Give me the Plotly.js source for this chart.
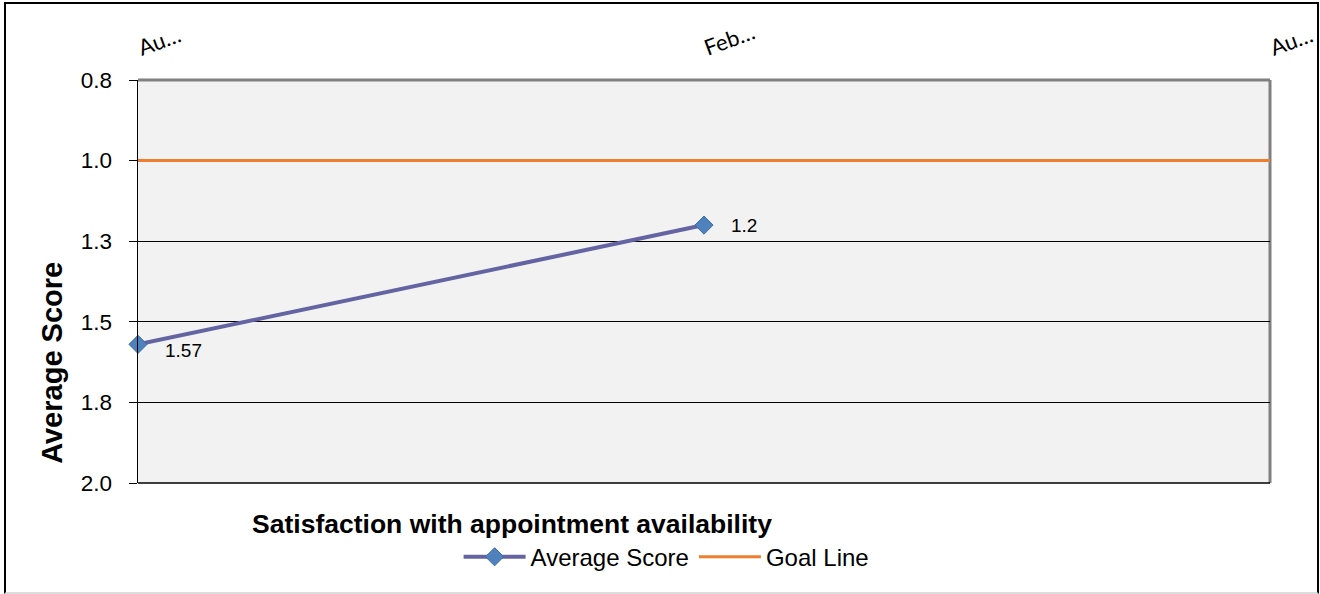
<!DOCTYPE html>
<html><head><meta charset="utf-8">
<script src="https://cdn.plot.ly/plotly-3.0.1.min.js"></script>
<style>
body{margin:0;background:#fff}
#wrap{position:relative;width:1320px;height:594px;overflow:hidden}
#chart{width:1320px;height:594px}
#frame{position:absolute;left:4px;top:2px;width:1311px;height:588px;border:2px solid #000;border-bottom:2px solid #ddd;pointer-events:none;}
</style></head><body>
<div id="wrap"><div id="chart"></div><div id="frame"></div></div>
<script>
const periods = ["Au…", "Feb…", "Au…"];
const averageScore = [1.57, 1.2, null];
const goalLine = [1.0, 1.0, 1.0];
const scoreLabels = ["1.57", "1.2", ""];

const xIdx = periods.map((_, i) => i);
const FONT = "Liberation Sans, Arial, sans-serif";

const traces = [
  {
    x: xIdx, y: averageScore, name: "Average Score", type: "scatter",
    mode: "lines+markers", cliponaxis: false,
    line: {color: "#6464A2", width: 4},
    marker: {symbol: "diamond", size: 14, color: "#4F81BD", line: {color: "#3C6DA8", width: 1}},
    hoverinfo: "y"
  },
  {
    x: xIdx, y: goalLine, name: "Goal Line", type: "scatter",
    mode: "lines",
    line: {color: "#EF7E2E", width: 3},
    hoverinfo: "y"
  }
];

const labelAnns = [];
averageScore.forEach((v, i) => {
  if (v === null) return;
  labelAnns.push({
    x: i, y: v, xref: "x", yref: "y", text: scoreLabels[i], showarrow: false,
    xanchor: "left", yanchor: "middle", xshift: 25, yshift: i === 0 ? -6 : 0,
    font: {family: FONT, size: 19, color: "#000"}
  });
});

const layout = {
  width: 1320, height: 594,
  margin: {l: 138, r: 50, t: 80, b: 111, pad: 0},
  paper_bgcolor: "#fff",
  plot_bgcolor: "#F2F2F2",
  showlegend: true,
  title: {
    text: "Satisfaction with appointment availability",
    font: {family: FONT, size: 26.5, weight: "bold", color: "#000"},
    xref: "container", yref: "container", x: 0.191, xanchor: "left", y: 0.118, yanchor: "middle"
  },
  legend: {
    orientation: "h", xref: "container", yref: "container",
    x: 0.505, xanchor: "center", y: 0.062, yanchor: "middle",
    font: {family: FONT, size: 24, color: "#000"},
    itemwidth: 62,
    bgcolor: "rgba(0,0,0,0)"
  },
  xaxis: {
    range: [0, 2], side: "top",
    tickvals: xIdx, ticktext: periods, tickangle: -20,
    showgrid: false, zeroline: false, showline: false, ticks: "",
    ticklabelstandoff: 18, ticklabeloverflow: "allow",
    tickfont: {family: "Lato, sans-serif", size: 22, color: "#000"},
    fixedrange: true
  },
  yaxis: {
    range: [2.0, 0.75], tick0: 0.75, dtick: 0.25, tickformat: ".1f",
    showgrid: true, gridcolor: "#000", gridwidth: 1,
    showline: true, linecolor: "#000", linewidth: 1.5,
    ticks: "outside", ticklen: 8, tickcolor: "#000", tickwidth: 1,
    ticklabelstandoff: 12,
    tickfont: {family: FONT, size: 22.5, color: "#000"},
    zeroline: false, fixedrange: true
  },
  shapes: [
    {type: "line", xref: "paper", yref: "paper", x0: 0, x1: 1, y0: 1, y1: 1, line: {color: "#808080", width: 3}},
    {type: "line", xref: "paper", yref: "paper", x0: 1, x1: 1, y0: 0, y1: 1, line: {color: "#808080", width: 3}, layer: "below"},
    {type: "line", xref: "paper", yref: "paper", x0: 0, x1: 1, y0: 0, y1: 0, line: {color: "#000", width: 1.5}}
  ],
  annotations: [
    {
      text: "Average Score", xref: "paper", yref: "paper", x: -0.076, y: 0.298,
      xanchor: "center", yanchor: "middle", textangle: -90, showarrow: false,
      font: {family: FONT, size: 29, weight: "bold", color: "#000"}
    }
  ].concat(labelAnns)
};

Plotly.newPlot("chart", traces, layout, {displayModeBar: false, staticPlot: true});
</script>
</body></html>
